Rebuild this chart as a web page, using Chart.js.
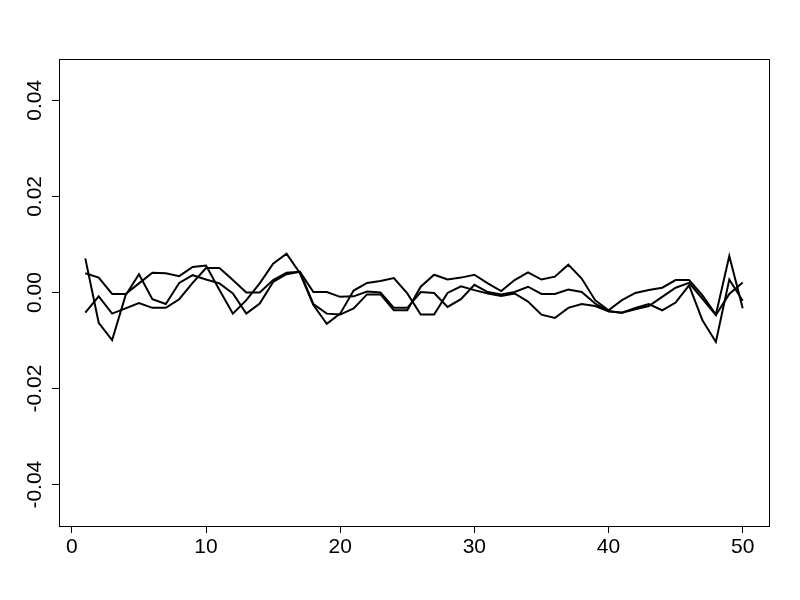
<!DOCTYPE html>
<html>
<head>
<meta charset="utf-8">
<script src="https://cdn.jsdelivr.net/npm/chart.js@4.4.0/dist/chart.umd.min.js"></script>
<style>
  html, body { margin: 0; padding: 0; background: #fff; }
  canvas { display: block; }
</style>
</head>
<body>
<canvas id="chart" width="800" height="600"></canvas>
<script>
// Three series, one value per index 1..50
const seriesA = [
  0.0071, -0.0063, -0.0099, -0.0006, 0.0038, -0.0014, -0.0024, 0.0020, 0.0036, 0.0027,
  0.0019, -0.0002, -0.0044, -0.0023, 0.0022, 0.0038, 0.0043, -0.0024, -0.0044, -0.0046,
  -0.0033, -0.0004, -0.0004, -0.0037, -0.0037, 0.0012, 0.0037, 0.0027, 0.0031, 0.0037,
  0.0019, 0.0003, 0.0026, 0.0042, 0.0027, 0.0033, 0.0058, 0.0029, -0.0016, -0.0037,
  -0.0016, -0.0001, 0.0005, 0.0010, 0.0026, 0.0026, -0.0006, -0.0046, 0.0076, -0.0033,
];
const seriesB = [
  0.0040, 0.0031, -0.0003, -0.0003, 0.0019, 0.0041, 0.0040, 0.0034, 0.0053, 0.0056,
  0.0005, -0.0044, -0.0016, 0.0019, 0.0060, 0.0081, 0.0040, -0.0026, -0.0065, -0.0044,
  0.0004, 0.0020, 0.0024, 0.0030, -0.0002, -0.0046, -0.0046, -0.0001, 0.0013, 0.0005,
  -0.0002, -0.0007, -0.0002, -0.0019, -0.0046, -0.0053, -0.0032, -0.0024, -0.0028, -0.0039,
  -0.0042, -0.0032, -0.0024, -0.0037, -0.0021, 0.0015, -0.0058, -0.0103, 0.0027, -0.0017,
];
const seriesC = [
  -0.0042, -0.0008, -0.0044, -0.0033, -0.0022, -0.0032, -0.0032, -0.0014, 0.0020, 0.0051,
  0.0051, 0.0026, 0.0000, 0.0000, 0.0026, 0.0041, 0.0043, 0.0001, 0.0001, -0.0009,
  -0.0008, 0.0002, 0.0000, -0.0032, -0.0032, 0.0001, -0.0001, -0.0030, -0.0014, 0.0016,
  0.0001, -0.0004, 0.0001, 0.0012, -0.0003, -0.0003, 0.0006, 0.0001, -0.0023, -0.0039,
  -0.0042, -0.0035, -0.0028, -0.0009, 0.0010, 0.0020, -0.0013, -0.0047, -0.0003, 0.0021,
];

// Axis ticks
const xTicks = [0, 10, 20, 30, 40, 50];
const yTicks = [-0.04, -0.02, 0, 0.02, 0.04];

const toPoints = (arr) => arr.map((v, i) => ({ x: i + 1, y: v }));

const line = (arr) => ({
  data: toPoints(arr),
  borderColor: '#000',
  borderWidth: 2,
  pointRadius: 0,
  tension: 0,
  fill: false,
});

// R-style box around the plot region
const boxPlugin = {
  id: 'box',
  afterDraw(chart) {
    const { ctx, chartArea: a } = chart;
    ctx.save();
    ctx.strokeStyle = '#000';
    ctx.lineWidth = 1;
    ctx.strokeRect(Math.round(a.left) + 0.5, Math.round(a.top) + 0.5,
      Math.round(a.right - a.left), Math.round(a.bottom - a.top));
    ctx.restore();
  },
};

const tickFont = { family: '"Liberation Sans", Arial, sans-serif', size: 21 };

// eslint-disable-next-line no-unused-vars
const chart = new Chart(document.getElementById('chart'), {
  type: 'line',
  data: {
    datasets: [line(seriesA), line(seriesB), line(seriesC)],
  },
  options: {
    responsive: false,
    animation: false,
    devicePixelRatio: 1,
    layout: { padding: { top: 59, right: 31, left: 0, bottom: 0 } },
    plugins: { legend: { display: false }, tooltip: { enabled: false } },
    scales: {
      x: {
        type: 'linear',
        min: -0.96,
        max: 51.96,
        afterBuildTicks: (s) => { s.ticks = xTicks.map((v) => ({ value: v })); },
        afterFit: (s) => { s.height = 74; },
        border: { display: false },
        grid: { drawOnChartArea: false, drawTicks: true, tickLength: 7, color: '#000', tickColor: '#000' },
        ticks: { color: '#000', font: tickFont, padding: 2, maxRotation: 0, autoSkip: false },
      },
      y: {
        type: 'linear',
        min: -0.0486,
        max: 0.0486,
        afterBuildTicks: (s) => { s.ticks = yTicks.map((v) => ({ value: v })); },
        afterFit: (s) => { s.width = 59; },
        border: { display: false },
        grid: { drawOnChartArea: false, drawTicks: true, tickLength: 7, color: '#000', tickColor: '#000' },
        ticks: {
          color: '#000',
          font: tickFont,
          minRotation: 90,
          maxRotation: 90,
          crossAlign: 'center',
          padding: -7,
          callback: (v) => Number(v).toFixed(2),
        },
      },
    },
  },
  plugins: [boxPlugin],
});
</script>
</body>
</html>
